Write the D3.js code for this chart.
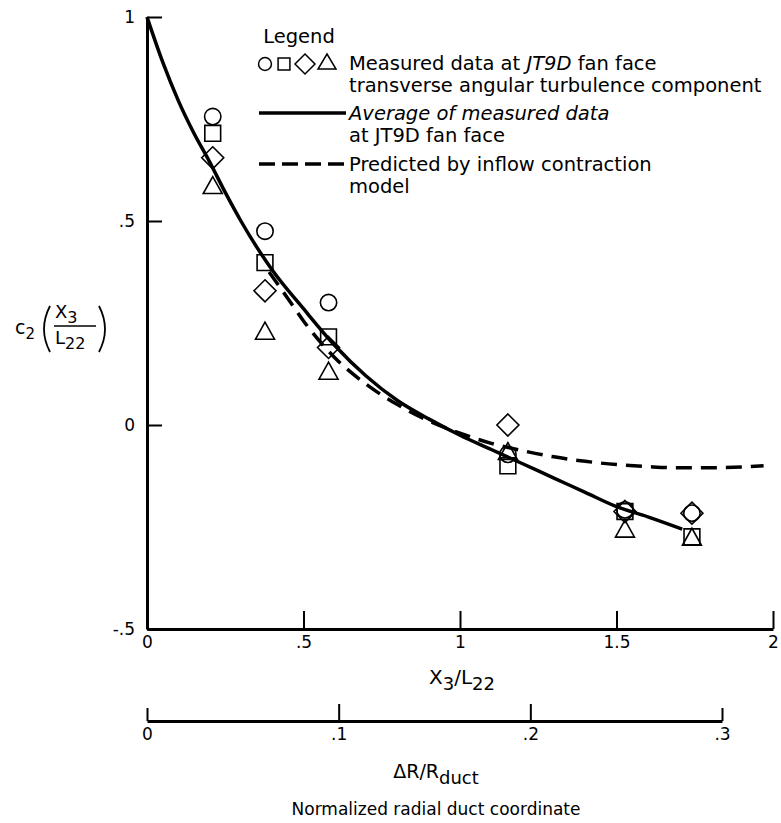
<!DOCTYPE html>
<html><head><meta charset="utf-8">
<script src="https://cdn.jsdelivr.net/npm/d3@7"></script>
<style>
html,body{margin:0;padding:0;background:#fff;}
svg{display:block;font-family:"DejaVu Sans","Liberation Sans",Arial,sans-serif;}
</style></head>
<body>
<svg id="chart" width="781" height="823"></svg>
<script>
// ---- data ----
const groupX   = [0.21, 0.377, 0.58, 1.153, 1.527, 1.741];
const circleY  = [0.756, 0.475, 0.30, -0.072, -0.208, -0.216];
const squareY  = [0.715, 0.398, 0.216, -0.10, -0.212, -0.274];
const diamondY = [0.655, 0.329, 0.19, 0.0, -0.212, -0.216];
const triangleY= [0.582, 0.225, 0.127, -0.07, -0.26, -0.28];

const avgX = [0, 0.05, 0.1, 0.15, 0.2, 0.25, 0.3, 0.4, 0.5, 0.6, 0.7, 0.8, 0.9, 1.0, 1.1, 1.2, 1.3, 1.4, 1.5, 1.6, 1.71];
const avgY = [1, 0.89, 0.795, 0.715, 0.645, 0.57, 0.5, 0.38, 0.285, 0.195, 0.12, 0.06, 0.015, -0.025, -0.06, -0.095, -0.13, -0.165, -0.2, -0.225, -0.255];

const predX = [0.39, 0.45, 0.5, 0.6, 0.7, 0.8, 0.9, 1.0, 1.1, 1.2, 1.3, 1.4, 1.5, 1.6, 1.7, 1.8, 1.97];
const predY = [0.375, 0.31, 0.255, 0.165, 0.1, 0.05, 0.01, -0.02, -0.045, -0.063, -0.078, -0.089, -0.097, -0.102, -0.105, -0.105, -0.1];

const xTicks = [0, 0.5, 1, 1.5, 2];
const xTickLabels = ["0", ".5", "1", "1.5", "2"];
const yTicks = [-0.5, 0, 0.5, 1];
const yTickLabels = ["-.5", "0", ".5", "1"];
const rTicks = [0, 0.1, 0.2, 0.3];
const rTickLabels = ["0", ".1", ".2", ".3"];

// ---- drawing ----
const svg = d3.select("#chart");
const x = d3.scaleLinear().domain([0, 2]).range([147, 773]);
const y = d3.scaleLinear().domain([-0.5, 1]).range([629, 17]);
const r = d3.scaleLinear().domain([0, 0.3]).range([147, 722]);

function styleAxis(g) {
  g.attr("font-family", null);
  g.select(".domain").attr("stroke-width", 3);
  g.selectAll(".tick line").attr("stroke-width", 2);
  g.selectAll(".tick text").attr("font-size", 17).attr("fill", "#000");
}

// y axis
const yAxis = d3.axisLeft(y).tickValues(yTicks)
  .tickFormat((d, i) => yTickLabels[i]).tickSize(-15).tickSizeOuter(0).tickPadding(12);
const gy = svg.append("g").attr("transform", "translate(147,0)").call(yAxis);
styleAxis(gy);

// x axis
const xAxis = d3.axisBottom(x).tickValues(xTicks)
  .tickFormat((d, i) => xTickLabels[i]).tickSize(-18).tickSizeOuter(0).tickPadding(7);
const gx = svg.append("g").attr("transform", "translate(0,629)").call(xAxis);
styleAxis(gx);

// second axis (delta R / R duct)
const rAxis = d3.axisBottom(r).tickValues(rTicks)
  .tickFormat((d, i) => rTickLabels[i]).tickSize(-17).tickSizeOuter(0).tickPadding(7);
const gr = svg.append("g").attr("transform", "translate(0,721)").call(rAxis);
styleAxis(gr);
gr.selectAll(".tick line")
  .attr("y2", (d, i) => (i === 0 || i === rTicks.length - 1) ? -13 : -17);

// curves
const line = d3.line().x(d => x(d[0])).y(d => y(d[1])).curve(d3.curveMonotoneX);
svg.append("path").datum(d3.zip(avgX, avgY)).attr("d", line)
  .attr("fill", "none").attr("stroke", "#000").attr("stroke-width", 3.5);
svg.append("path").datum(d3.zip(predX, predY)).attr("d", line)
  .attr("fill", "none").attr("stroke", "#000").attr("stroke-width", 3.5)
  .attr("stroke-dasharray", "16,9");

// markers
const mk = svg.append("g").attr("fill", "none").attr("stroke", "#000").attr("stroke-width", 1.6);
const symPath = {
  circle: d3.symbol(d3.symbolCircle, 210)(),
  square: d3.symbol(d3.symbolSquare, 250)(),
  diamond: "M0,-11L11,0L0,11L-11,0Z",
  triangle: "M0,-11L9.5,6L-9.5,6Z"
};
function drawSeries(vals, key) {
  mk.selectAll(null).data(d3.zip(groupX, vals)).join("path")
    .attr("d", symPath[key])
    .attr("transform", d => `translate(${x(d[0])},${y(d[1])})`);
}
drawSeries(circleY, "circle");
drawSeries(squareY, "square");
drawSeries(diamondY, "diamond");
drawSeries(triangleY, "triangle");

// legend
const lg = svg.append("g").attr("font-size", 19.5).attr("fill", "#000");
lg.append("text").attr("x", 299).attr("y", 43).attr("text-anchor", "middle").text("Legend");
const ls = svg.append("g").attr("fill", "none").attr("stroke", "#000").attr("stroke-width", 1.5);
ls.append("path").attr("d", d3.symbol(d3.symbolCircle, 130)()).attr("transform", "translate(265,64)");
ls.append("path").attr("d", d3.symbol(d3.symbolSquare, 140)()).attr("transform", "translate(284,64)");
ls.append("path").attr("d", "M0,-10L10,0L0,10L-10,0Z").attr("transform", "translate(305,64)");
ls.append("path").attr("d", "M0,-8L9,7L-9,7Z").attr("transform", "translate(327,62)");
const t1 = lg.append("text").attr("x", 349).attr("y", 70);
t1.append("tspan").text("Measured data at ");
t1.append("tspan").attr("font-style", "italic").text("JT9D");
t1.append("tspan").text(" fan face");
lg.append("text").attr("x", 349).attr("y", 92).text("transverse angular turbulence component");
svg.append("line").attr("x1", 259).attr("x2", 346).attr("y1", 113).attr("y2", 113)
  .attr("stroke", "#000").attr("stroke-width", 3.5);
lg.append("text").attr("x", 349).attr("y", 120).attr("font-style", "italic").text("Average of measured data");
lg.append("text").attr("x", 349).attr("y", 142).text("at JT9D fan face");
svg.append("line").attr("x1", 259).attr("x2", 346).attr("y1", 164).attr("y2", 164)
  .attr("stroke", "#000").attr("stroke-width", 3.5).attr("stroke-dasharray", "16,7");
lg.append("text").attr("x", 349).attr("y", 171).text("Predicted by inflow contraction");
lg.append("text").attr("x", 349).attr("y", 193).text("model");

// y axis label c2(X3/L22) — parentheses drawn as strokes
const yl = svg.append("g").attr("fill", "#000");
const yc = yl.append("text").attr("x", 15).attr("y", 334).attr("font-size", 19);
yc.append("tspan").text("c");
yc.append("tspan").attr("dy", 5).attr("font-size", 15).text("2");
const paren = svg.append("g").attr("fill", "none").attr("stroke", "#000").attr("stroke-width", 1.8);
paren.append("path").attr("d", "M50,306 Q38,329 50,352");
paren.append("path").attr("d", "M99,306 Q111,329 99,352");
const num = yl.append("text").attr("x", 55).attr("y", 318).attr("font-size", 18);
num.append("tspan").text("X");
num.append("tspan").attr("dy", 5).attr("font-size", 16).text("3");
svg.append("line").attr("x1", 54).attr("x2", 96).attr("y1", 326).attr("y2", 326)
  .attr("stroke", "#000").attr("stroke-width", 1.5);
const den = yl.append("text").attr("x", 55).attr("y", 344).attr("font-size", 18);
den.append("tspan").text("L");
den.append("tspan").attr("dy", 5).attr("font-size", 16).text("22");

// x axis title X3/L22
const xt = svg.append("text").attr("x", 462).attr("y", 684).attr("text-anchor", "middle").attr("font-size", 20).attr("fill", "#000");
xt.append("tspan").text("X");
xt.append("tspan").attr("dy", 6).attr("font-size", 18).text("3");
xt.append("tspan").attr("dy", -6).text("/L");
xt.append("tspan").attr("dy", 6).attr("font-size", 18).text("22");

// second title
const rt = svg.append("text").attr("x", 436).attr("y", 778).attr("text-anchor", "middle").attr("font-size", 19).attr("fill", "#000");
rt.append("tspan").text("\u0394R/R");
rt.append("tspan").attr("dy", 6).attr("font-size", 18).text("duct");

svg.append("text").attr("x", 436).attr("y", 815).attr("text-anchor", "middle").attr("font-size", 17).attr("fill", "#000")
  .text("Normalized radial duct coordinate");
</script>
</body></html>
